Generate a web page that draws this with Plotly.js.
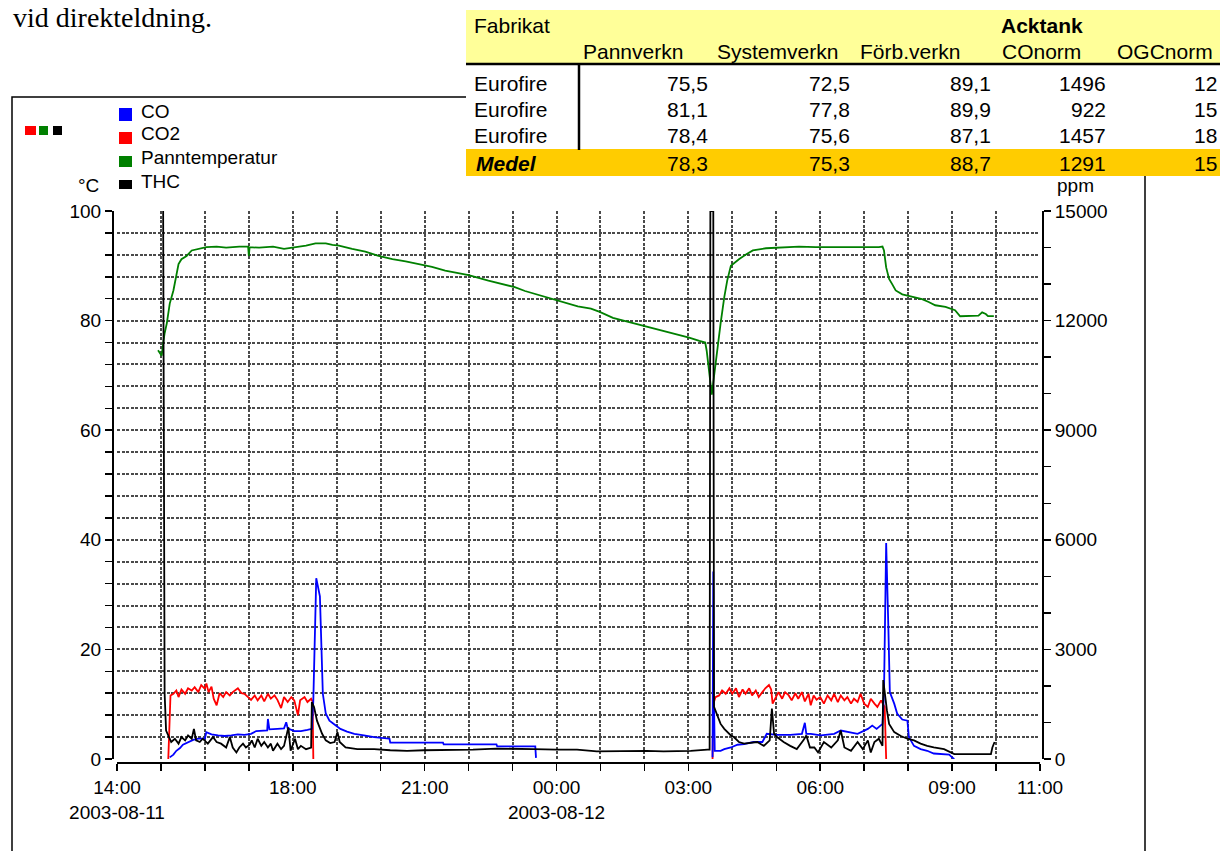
<!DOCTYPE html>
<html>
<head>
<meta charset="utf-8">
<script src="https://cdn.plot.ly/plotly-3.0.1.min.js"></script>
<style>
  html, body { margin: 0; padding: 0; background: #ffffff; }
  #chart { width: 1220px; height: 851px; }
</style>
</head>
<body>
<div id="chart"></div>
<script>
// ---- Measured series (clock times; times before 14:00 fall on 2003-08-12) ----
// CO2 [%], left axis. null breaks the line between the two firings.
const co2Time = ['15:10','15:13','15:17','15:21','15:24','15:28','15:33','15:37','15:42','15:46','15:51','15:55','16:00','16:02','16:05','16:09','16:12','16:16','16:20','16:25','16:29','16:34','16:38','16:45','16:50','16:54','16:59','17:03','17:08','17:12','17:17','17:21','17:26','17:30','17:35','17:39','17:44','17:48','17:53','17:58','18:02','18:07','18:10','18:16','18:20','18:25','18:27','18:28','18:29',
  '03:33','03:34','03:37','03:42','03:46','03:51','03:56','04:00','04:05','04:09','04:14','04:18','04:23','04:27','04:32','04:36','04:41','04:45','04:50','04:53','04:55','04:59','05:03','05:08','05:12','05:17','05:21','05:26','05:30','05:35','05:39','05:44','05:47','05:51','05:55','06:00','06:05','06:10','06:15','06:19','06:24','06:28','06:33','06:37','06:42','06:46','06:51','06:55','07:00','07:05','07:09','07:14','07:18','07:23','07:25','07:28','07:30'];
const co2Val = [0,11.6,11.9,12.5,11.3,12.7,11.9,12.9,12.5,13.1,12.2,13.5,12.8,13.8,12.2,13.2,11.0,9.8,12.0,11.3,12.2,11.6,12.2,12.9,12.0,11.9,11.3,10.8,11.6,10.7,11.6,10.5,11.9,11.0,11.6,10.8,9.3,11.3,10.4,11.3,10.7,8.0,10.7,11.3,10.4,11.0,10.5,0,null,
  0,10.0,11.3,11.6,12.5,11.9,12.9,11.9,12.9,11.3,12.7,11.9,12.9,11.6,12.5,11.3,12.2,12.9,13.5,12.7,10.1,11.3,12.2,11.0,12.2,11.6,10.7,12.0,11.0,12.2,10.5,11.9,9.8,11.6,10.8,11.3,10.1,11.6,10.7,11.9,10.4,11.6,10.7,11.3,10.1,11.0,10.4,11.9,10.1,9.5,11.0,10.1,9.5,10.7,10.1,9.5,0];

// CO [ppm], right axis.
const coTime = ['15:12','15:17','15:21','15:26','15:30','15:37','15:44','15:51','16:00','16:02','16:09','16:18','16:27','16:36','16:45','16:54','17:03','17:10','17:19','17:25','17:26','17:28','17:39','17:48','17:51','17:53','18:02','18:11','18:20','18:26','18:28','18:30','18:32','18:37','18:39','18:41','18:45','18:50','18:56','19:05','19:14','19:24','19:37','19:51','20:12','20:13','21:25','21:26','22:38','22:39','23:31','23:32','23:33',
  '03:33','03:34','03:35','03:36','03:44','03:49','03:58','04:07','04:16','04:29','04:41','04:47','05:01','05:19','05:35','05:39','05:41','05:47','06:01','06:19','06:28','06:42','06:51','07:05','07:11','07:17','07:25','07:27','07:29','07:30','07:33','07:35','07:41','07:45','07:52','07:59','08:01','08:08','08:17','08:26','08:35','08:45','08:56','09:00','09:03'];
const coVal = [45,120,225,300,390,465,525,555,555,735,675,645,630,645,675,660,690,765,780,780,1095,810,825,840,1005,840,765,765,795,825,1605,3300,4950,4455,2700,1785,1245,1050,960,825,750,690,645,600,555,450,450,400,400,345,345,30,null,
  45,5130,1500,225,225,270,315,390,405,465,465,690,660,660,690,990,690,690,645,690,780,735,690,825,915,825,960,1785,4500,5910,3600,1830,1515,1245,1080,1050,600,360,270,225,150,135,120,45,0];

// Panntemperatur [°C], left axis.
const tempTime = ['14:56','14:59','15:01','15:03','15:05','15:08','15:10','15:12','15:17','15:20','15:24','15:28','15:35','15:42','15:53','16:02','16:16','16:29','16:47','16:59','17:00','17:01','17:14','17:33','17:48','18:00','18:18','18:31','18:45','18:54','19:03','19:21','19:39','19:57','20:16','20:34','20:52','21:10','21:28','21:46','22:00','22:27','22:45','23:03','23:17','23:35','23:53',
  '00:11','00:29','00:47','00:59','01:17','01:35','01:53','02:07','02:20','02:34','02:48','03:01','03:15','03:23','03:25','03:28','03:32','03:35','03:40','03:44','03:49','03:53','03:58','04:09','04:18','04:28','04:46','05:13','05:31','05:54','06:16','06:39','07:02','07:20','07:25','07:27','07:30','07:34','07:38','07:43','07:52','08:05','08:19','08:28','08:37','08:51','09:04','09:11','09:36','09:41','09:46','09:49','09:57'];
const tempVal = [74.6,74.0,73.6,75.8,77.7,79.5,81.3,83.1,85.5,87.3,90.3,91.2,91.8,92.8,93.1,93.4,93.5,93.3,93.5,93.5,91.8,93.4,93.3,93.5,93.1,93.3,93.7,94.1,94.1,93.8,93.7,93.1,92.6,91.8,91.2,90.8,90.3,89.8,89.1,88.6,88.3,87.3,86.7,86.1,85.4,84.7,84.0,
  83.4,82.6,82.2,81.6,80.5,79.9,79.3,78.8,78.3,77.8,77.4,76.9,76.3,76.0,74.5,71.5,66.5,69.8,75.8,79.5,84.3,87.3,90.0,91.2,92.0,92.8,93.2,93.4,93.5,93.4,93.4,93.3,93.3,93.4,93.5,92.8,89.7,87.6,86.7,85.5,84.8,84.3,83.9,83.4,82.8,82.5,81.9,80.8,80.9,81.5,81.2,80.8,80.8];

// THC [ppm], right axis (15000 = top of scale).
const thcTime = ['15:03','15:05','15:07','15:10','15:14','15:19','15:24','15:28','15:33','15:37','15:42','15:45','15:48','15:53','15:57','16:04','16:11','16:16','16:22','16:29','16:34','16:38','16:43','16:47','16:52','16:56','17:01','17:04','17:08','17:12','17:17','17:21','17:26','17:30','17:33','17:39','17:44','17:48','17:54','17:57','18:03','18:07','18:11','18:18','18:25','18:26','18:29','18:33','18:36','18:40','18:45','18:51','18:57','19:01','19:04','19:12','19:28','19:51','20:13','20:36','20:59','21:21','21:44','22:06','22:38','23:00','23:29',
  '00:00','00:28','00:55','01:31','02:03','02:26','03:03','03:26','03:29','03:30','03:34','03:35','03:40','03:44','03:49','03:53','03:58','04:02','04:09','04:16','04:25','04:34','04:43','04:51','04:54','04:57','05:01','05:10','05:19','05:28','05:37','05:41','05:46','05:52','05:57','06:05','06:15','06:24','06:28','06:33','06:42','06:51','06:58','07:05','07:09','07:14','07:20','07:25','07:26','07:28','07:31','07:34','07:41','07:50','07:59','08:08','08:17','08:26','08:35','08:49','08:58','09:03','09:21','09:53','09:55','09:58'];
const thcVal = [15000,1800,780,645,465,555,420,600,510,645,555,825,510,465,555,420,600,465,420,315,600,315,180,315,420,315,390,510,315,555,360,465,315,420,225,420,270,360,870,225,555,270,360,270,315,1560,1425,1050,870,690,510,435,465,735,465,315,270,270,240,225,240,240,255,255,285,270,270,
  255,255,210,225,225,210,225,255,255,15000,15000,1425,1140,960,825,735,645,600,465,420,435,465,360,510,1380,690,600,465,360,270,510,645,315,315,180,465,315,510,780,315,225,465,270,510,180,465,555,360,2160,1800,1335,960,735,630,555,510,420,360,315,270,180,135,135,135,315,465];

// ---- Axis labels ----
const xLabelTicks = {'14:00':'14:00<br>2003-08-11','18:00':'18:00','21:00':'21:00','00:00':'00:00<br>2003-08-12','03:00':'03:00','06:00':'06:00','09:00':'09:00','11:00':'11:00'};
const xStart = '2003-08-11 14:00', xEnd = '2003-08-12 11:00';

// ---- Legend ----
const seriesNames = ['CO','CO2','Panntemperatur','THC'];
const seriesColors = ['#0000ff','#ff0000','#008000','#000000'];

// ---- Results table ----
const tableTitle = 'Acktank';
const tableFirstHeader = 'Fabrikat';
const tableHeaders = ['Pannverkn','Systemverkn','Förb.verkn','COnorm','OGCnorm'];
const tableRowNames = ['Eurofire','Eurofire','Eurofire'];
const pannverkn = [75.5, 81.1, 78.4];
const systemverkn = [72.5, 77.8, 75.6];
const forbverkn = [89.1, 89.9, 87.1];
const conorm = [1496, 922, 1457];
const ogcnorm = ['12','15','18'];
const medelName = 'Medel';
const medel = [78.3, 75.3, 88.7, 1291];
const medelOgc = '15';

// ---- Page geometry ----
const W = 1220, H = 851, ML = 113, MR = 177, MT = 211, MB = 88;
const PW = W - ML - MR, PH = H - MT - MB;
const px = x => (x - ML) / PW;
const py = y => (H - MB - y) / PH;
const FONT = 'Arial, "Liberation Sans", sans-serif';

function stamp(t) {
  const h = parseInt(t.slice(0, 2), 10);
  return (h >= 14 ? '2003-08-11 ' : '2003-08-12 ') + t;
}
const fmt1 = v => v.toFixed(1).replace('.', ',');

// hourly ticks, labelled at the chosen hours
const tickVals = [], tickText = [];
for (let i = 0; i <= 21; i++) {
  const h = (14 + i) % 24;
  const hh = (h < 10 ? '0' : '') + h + ':00';
  tickVals.push(stamp(hh));
  tickText.push(xLabelTicks[hh] || '');
}

const mk = (t, v, color, axis) => ({
  x: t.map(stamp), y: v, type: 'scatter', mode: 'lines', yaxis: axis,
  line: { color: color, width: 1.8 }, hoverinfo: 'skip', showlegend: false
});

const data = [
  mk(co2Time, co2Val, seriesColors[1], 'y'),
  mk(coTime, coVal, seriesColors[0], 'y2'),
  mk(tempTime, tempVal, seriesColors[2], 'y'),
  mk(thcTime, thcVal, seriesColors[3], 'y2')
];

const GRID = '#4a4a4a';
const GDASH = '3px,1.5px';
const shapes = [];
const ann = [];
function note(text, x, y, o) {
  ann.push(Object.assign({
    text: text, x: px(x), y: py(y), xref: 'paper', yref: 'paper',
    showarrow: false, xanchor: 'left', yanchor: 'middle',
    font: { family: FONT, size: 19, color: '#000' }
  }, o || {}));
}
function rect(x0, y0, x1, y1, fill, line) {
  shapes.push({ type: 'rect', xref: 'paper', yref: 'paper',
    x0: px(x0), x1: px(x1), y0: py(y1), y1: py(y0),
    fillcolor: fill || 'rgba(0,0,0,0)', line: line || { width: 0 } });
}
function seg(x0, y0, x1, y1, w, dash) {
  shapes.push({ type: 'line', xref: 'paper', yref: 'paper',
    x0: px(x0), x1: px(x1), y0: py(y0), y1: py(y1),
    line: { color: '#000', width: w, dash: dash || 'solid' } });
}

// outer chart frame
rect(12, 97, 1145, 900, null, { color: '#000', width: 1.5 });

// results table
rect(466, 64, 1225, 150, '#ffffff');
rect(466, 10, 1225, 63, '#ffff99');
rect(466, 149, 1225, 176, '#ffcc00');
seg(466, 64, 1225, 64, 2.5);
seg(579, 65, 579, 150, 2.5);

const TF = { family: FONT, size: 21, color: '#000' };
note(tableFirstHeader, 472, 25, { font: TF });
note('<b>' + tableTitle + '</b>', 999, 25, { font: TF });
const headX = [581, 715, 858, 1000, 1115];
tableHeaders.forEach((h, i) => note(h, headX[i], 52, { font: TF }));
const rowY = [83, 109, 136];
const valRight = [710, 852, 993, 1108];
tableRowNames.forEach((r, i) => {
  note(r, 472, rowY[i], { font: TF });
  note(fmt1(pannverkn[i]), valRight[0], rowY[i], { font: TF, xanchor: 'right' });
  note(fmt1(systemverkn[i]), valRight[1], rowY[i], { font: TF, xanchor: 'right' });
  note(fmt1(forbverkn[i]), valRight[2], rowY[i], { font: TF, xanchor: 'right' });
  note(String(conorm[i]), valRight[3], rowY[i], { font: TF, xanchor: 'right' });
  note(ogcnorm[i], 1219, rowY[i], { font: TF, xanchor: 'right' });
});
note('<b><i>' + medelName + '</i></b>', 474, 164, { font: TF });
medel.forEach((v, i) => note(i < 3 ? fmt1(v) : String(v), valRight[i], 164, { font: TF, xanchor: 'right' }));
note(medelOgc, 1219, 164, { font: TF, xanchor: 'right' });

// heading text above the chart
note('vid direkteldning.', 11, 18, { font: { family: '"Liberation Serif", "Times New Roman", serif', size: 28, color: '#000' } });

// legend
const swatch = [[108, 121], [132, 144], [156, 167], [180, 189]];
const labelY = [112, 133, 157, 181];
seriesNames.forEach((n, i) => {
  rect(119, swatch[i][0], 132, swatch[i][1], seriesColors[i]);
  note(n, 139, labelY[i]);
});
rect(25, 126, 36, 135, '#ff0000');
rect(39, 126, 48, 135, '#008000');
rect(53, 126, 62, 135, '#000000');

// axis units
note('°C', 76, 185);
note('ppm', 1055, 186);

const axisBase = {
  showline: true, linecolor: '#000', linewidth: 2,
  ticks: 'outside', ticklen: 7, tickwidth: 1.5, tickcolor: '#000',
  tickfont: { family: FONT, size: 19, color: '#000' },
  zeroline: false, fixedrange: true
};

const layout = {
  width: W, height: H,
  margin: { l: ML, r: MR, t: MT, b: MB, pad: 0 },
  paper_bgcolor: '#ffffff', plot_bgcolor: '#ffffff',
  showlegend: false,
  xaxis: Object.assign({}, axisBase, {
    type: 'date', range: [xStart, xEnd],
    domain: [px(117), px(1040)], anchor: 'free', position: 0,
    tickmode: 'array', tickvals: tickVals, ticktext: tickText,
    showgrid: true, gridcolor: GRID, gridwidth: 2, griddash: GDASH
  }),
  yaxis: Object.assign({}, axisBase, {
    range: [0, 100], domain: [(763 - 759) / PH, 1], anchor: 'free', position: 0,
    tick0: 0, dtick: 20,
    showgrid: true, gridcolor: GRID, gridwidth: 2, griddash: GDASH,
    minor: { dtick: 4, tick0: 0, ticks: 'outside', ticklen: 7, tickwidth: 1.5, tickcolor: '#000',
             showgrid: true, gridcolor: GRID, gridwidth: 2, griddash: GDASH }
  }),
  yaxis2: Object.assign({}, axisBase, {
    range: [0, 15000], overlaying: 'y', side: 'right', anchor: 'free', position: 1,
    tick0: 0, dtick: 3000, tickformat: 'd', exponentformat: 'none',
    showgrid: false,
    minor: { dtick: 1000, tick0: 0, ticks: 'outside', ticklen: 7, tickwidth: 1.5, tickcolor: '#000', showgrid: false }
  }),
  shapes: shapes,
  annotations: ann
};

Plotly.newPlot('chart', data, layout, { displayModeBar: false, staticPlot: true });
</script>
</body>
</html>
